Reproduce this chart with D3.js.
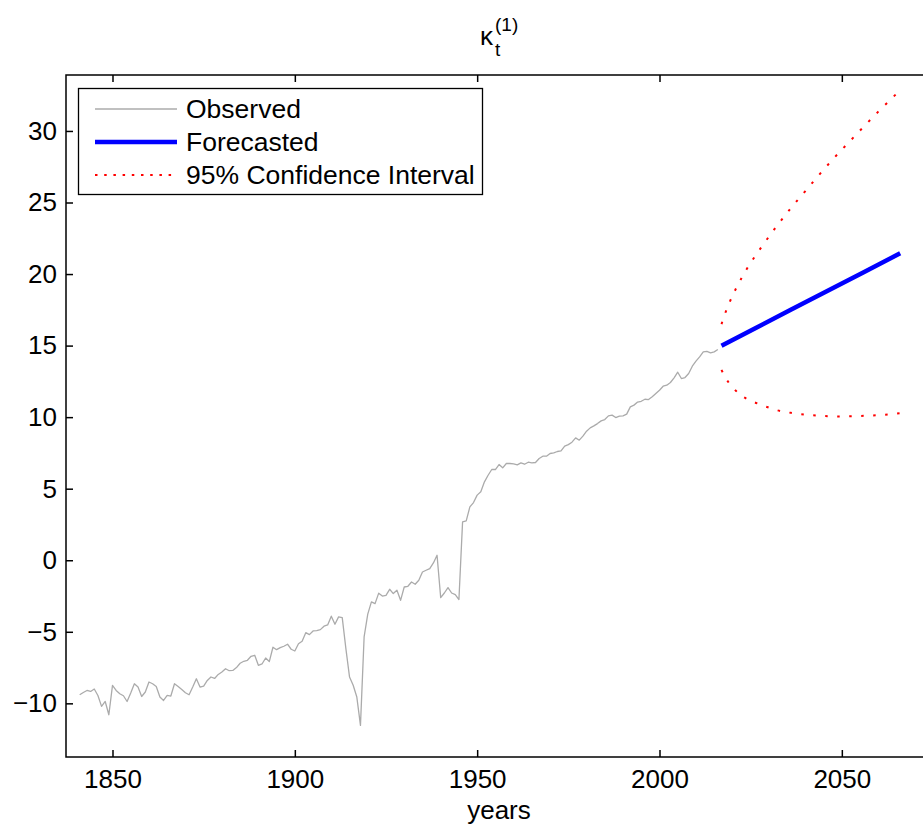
<!DOCTYPE html>
<html>
<head>
<meta charset="utf-8">
<script src="https://cdn.jsdelivr.net/npm/d3@7"></script>
<style>
  body { margin: 0; background: #fff; }
  svg { display: block; font-family: "Liberation Sans", Arial, sans-serif; }
</style>
</head>
<body>
<svg width="923" height="828"></svg>
<script>
// observed kappa_t^(1), one value per year 1841..2016
const obsStart = 1841;
const obsValues = [
  -9.4, -9.24, -9.1, -9.17, -9.0, -9.45, -10.21, -9.87, -10.8, -8.75,
  -9.1, -9.33, -9.47, -9.87, -9.28, -8.63, -8.86, -9.52, -9.21, -8.51,
  -8.63, -8.82, -9.56, -9.8, -9.45, -9.49, -8.63, -8.82, -9.03, -9.26,
  -9.4, -8.86, -8.28, -8.86, -8.79, -8.4, -8.16, -8.26, -7.98, -7.81,
  -7.58, -7.72, -7.7, -7.5, -7.2, -7.06, -6.99, -6.71, -6.64, -7.34,
  -7.25, -6.83, -7.08, -6.08, -6.25, -6.11, -6.01, -5.87, -6.22, -6.34,
  -5.83, -5.66, -5.06, -5.2, -4.94, -4.92, -4.85, -4.61, -4.52, -3.91,
  -4.47, -3.96, -4.01, -6.18, -8.16, -8.74, -9.56, -11.54, -5.36, -3.77,
  -2.91, -3.03, -2.3, -2.5, -2.45, -2.03, -2.33, -2.1, -2.8, -1.87,
  -1.82, -1.52, -1.68, -1.4, -0.82, -0.7, -0.58, -0.19, 0.35, -2.61,
  -2.29, -1.91, -2.29, -2.4, -2.75, 2.68, 2.75, 3.73, 4.03, 4.55,
  4.78, 5.48, 5.94, 6.34, 6.34, 6.69, 6.46, 6.76, 6.76, 6.74,
  6.67, 6.8, 6.71, 6.85, 6.8, 6.83, 7.11, 7.27, 7.27, 7.46,
  7.5, 7.6, 7.64, 7.97, 8.08, 8.25, 8.55, 8.39, 8.67, 9.02,
  9.25, 9.39, 9.55, 9.74, 9.83, 10.09, 10.14, 9.97, 10.07, 10.09,
  10.21, 10.72, 10.84, 11.05, 11.11, 11.25, 11.23, 11.42, 11.65, 11.88,
  12.16, 12.23, 12.42, 12.75, 13.14, 12.7, 12.77, 13.05, 13.56, 13.91,
  14.21, 14.56, 14.59, 14.49, 14.56, 14.73
];

// forecast (at a few years)
const fcYears = [2017, 2026, 2036, 2046, 2056, 2066];
const fcValues = [14.99, 16.18, 17.5, 18.82, 20.13, 21.45];

// 95% confidence bounds
const ciUpYears = [2017, 2018, 2019, 2021, 2024, 2028, 2032, 2036, 2040, 2044, 2048, 2052, 2056, 2060, 2064, 2066];
const ciUpValues = [16.5, 17.25, 17.9, 19.0, 20.38, 21.9, 23.3, 24.6, 25.8, 27.0, 28.15, 29.23, 30.3, 31.35, 32.35, 32.85];
const ciLoYears = [2017, 2018, 2020, 2022, 2025, 2028, 2032, 2036, 2040, 2045, 2050, 2055, 2060, 2064, 2066];
const ciLoValues = [13.3, 12.8, 12.1, 11.6, 11.15, 10.85, 10.5, 10.3, 10.18, 10.08, 10.05, 10.08, 10.14, 10.22, 10.28];

const xTicks = [1850, 1900, 1950, 2000, 2050];
const yTicks = [-10, -5, 0, 5, 10, 15, 20, 25, 30];
const legendLabels = ["Observed", "Forecasted", "95% Confidence Interval"];

const svg = d3.select("svg"),
    plotLeft = 66, plotTop = 75, plotBottom = 757, plotRight = 933;

const x = d3.scaleLinear().domain([1837.25, 2075]).range([plotLeft, plotRight]);
const y = d3.scaleLinear().domain([-13.75, 33.91]).range([plotBottom, plotTop]);

const obs = obsValues.map((v, i) => ({ year: obsStart + i, value: v }));
const fc = fcYears.map((yr, i) => ({ year: yr, value: fcValues[i] }));
const ciUp = ciUpYears.map((yr, i) => ({ year: yr, value: ciUpValues[i] }));
const ciLo = ciLoYears.map((yr, i) => ({ year: yr, value: ciLoValues[i] }));

const line = d3.line()
    .x(d => x(d.year))
    .y(d => y(d.value));
const smooth = d3.line()
    .curve(d3.curveMonotoneX)
    .x(d => x(d.year))
    .y(d => y(d.value));

const fmt = d => (d < 0 ? "\u2212" + Math.abs(d) : "" + d);

// axes with inward ticks (matlab style)
const gx = svg.append("g")
    .attr("transform", "translate(0," + plotBottom + ")")
    .call(d3.axisBottom(x).tickValues(xTicks).tickSizeInner(-7).tickSizeOuter(0).tickPadding(13).tickFormat(d => d));
const gxTop = svg.append("g")
    .attr("transform", "translate(0," + plotTop + ")")
    .call(d3.axisTop(x).tickValues(xTicks).tickSizeInner(-7).tickSizeOuter(0).tickFormat(""));
const gy = svg.append("g")
    .attr("transform", "translate(" + plotLeft + ",0)")
    .call(d3.axisLeft(y).tickValues(yTicks).tickSizeInner(-7).tickSizeOuter(0).tickPadding(9).tickFormat(fmt));

[gx, gxTop, gy].forEach(g => {
  g.select(".domain").remove();
  g.selectAll(".tick line").attr("stroke", "#000").attr("stroke-width", 1.5);
  g.selectAll(".tick text")
      .attr("fill", "#000")
      .attr("font-size", 26)
      .attr("font-family", "'Liberation Sans', Arial, sans-serif");
});

svg.append("rect")
    .attr("x", plotLeft)
    .attr("y", plotTop)
    .attr("width", plotRight - plotLeft)
    .attr("height", plotBottom - plotTop)
    .attr("fill", "none")
    .attr("stroke", "#000")
    .attr("stroke-width", 1.5);

// series
svg.append("path")
    .datum(obs)
    .attr("fill", "none")
    .attr("stroke", "#ababab")
    .attr("stroke-width", 1.3)
    .attr("stroke-linejoin", "round")
    .attr("d", line);

svg.append("path")
    .datum(fc)
    .attr("fill", "none")
    .attr("stroke", "#0000ff")
    .attr("stroke-width", 4.5)
    .attr("d", line);

[ciUp, ciLo].forEach(ci => {
  svg.append("path")
      .datum(ci)
      .attr("fill", "none")
      .attr("stroke", "#ff0000")
      .attr("stroke-width", 2)
      .attr("stroke-dasharray", "2.5,9.5")
      .attr("d", smooth);
});

// title
const title = svg.append("g").attr("fill", "#000");
title.append("text").attr("x", 480).attr("y", 45)
    .attr("font-size", 26).text("\u03ba");
title.append("text").attr("x", 495).attr("y", 56)
    .attr("font-size", 19).text("t");
title.append("text").attr("x", 495).attr("y", 31)
    .attr("font-size", 19).text("(1)");

// x label
svg.append("text")
    .attr("x", 499)
    .attr("y", 819)
    .attr("text-anchor", "middle")
    .attr("font-size", 26)
    .text("years");

// legend
const legend = svg.append("g");
legend.append("rect")
    .attr("x", 78.5).attr("y", 88.5)
    .attr("width", 404).attr("height", 106)
    .attr("fill", "#fff")
    .attr("stroke", "#000")
    .attr("stroke-width", 1.3);

const legendStyles = [
  { color: "#ababab", width: 1.3, dash: null },
  { color: "#0000ff", width: 4.5, dash: null },
  { color: "#ff0000", width: 2, dash: "2.5,6.7" }
];
const rowY = [109, 142, 175];

legendLabels.forEach((label, i) => {
  const s = legendStyles[i];
  legend.append("line")
      .attr("x1", 95).attr("x2", 177)
      .attr("y1", rowY[i]).attr("y2", rowY[i])
      .attr("stroke", s.color)
      .attr("stroke-width", s.width)
      .attr("stroke-dasharray", s.dash);
  legend.append("text")
      .attr("x", 186)
      .attr("y", rowY[i])
      .attr("dy", "0.35em")
      .attr("font-size", 26.5)
      .attr("fill", "#000")
      .text(label);
});
</script>
</body>
</html>
